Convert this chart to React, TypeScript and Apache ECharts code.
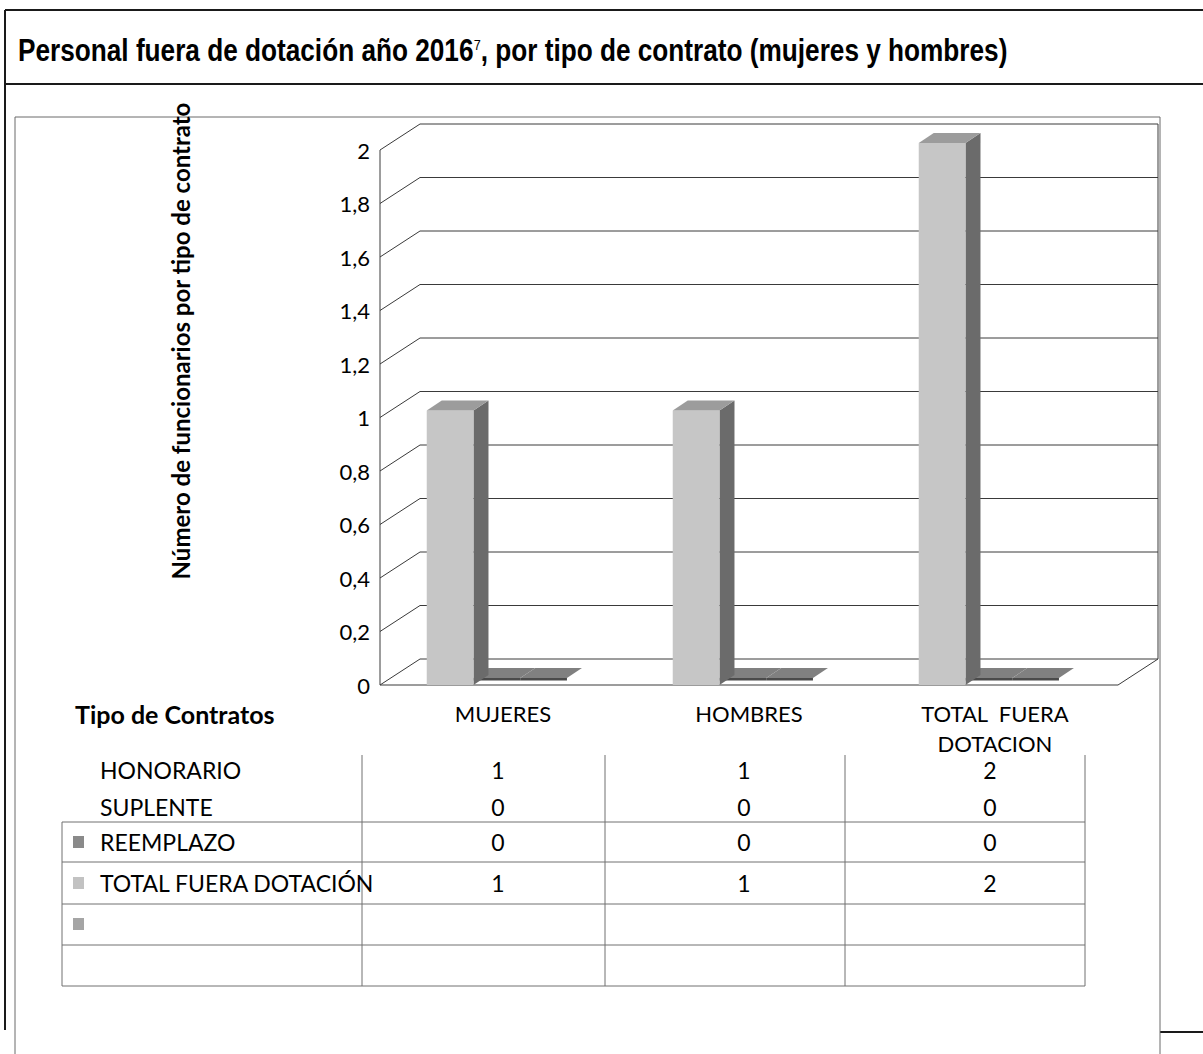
import React, { useEffect, useRef } from 'react';
import * as echarts from 'echarts';

// ---- data ----
const categories = ['MUJERES', 'HOMBRES', 'TOTAL  FUERA DOTACION'];
const honorario = [1, 1, 2];
const suplente = [0, 0, 0];
const reemplazo = [0, 0, 0];
const totalFueraDotacion = [1, 1, 2];
const yTicks = [0, 0.2, 0.4, 0.6, 0.8, 1, 1.2, 1.4, 1.6, 1.8, 2];
const tableRows: { label: string; values: (number | null)[]; key: string | null }[] = [
  { label: 'HONORARIO', values: honorario, key: null },
  { label: 'SUPLENTE', values: suplente, key: null },
  { label: 'REEMPLAZO', values: reemplazo, key: '#8a8a8a' },
  { label: 'TOTAL FUERA DOTACIÓN', values: totalFueraDotacion, key: '#c2c2c2' },
  { label: '', values: [null, null, null], key: '#a5a5a5' },
  { label: '', values: [null, null, null], key: null },
];
const titleMain = 'Personal fuera de dotación año 2016';
const titleSup = '7';
const titleRest = ', por tipo de contrato (mujeres y hombres)';
const yAxisTitle = 'Número de funcionarios por tipo de contrato';
const tableHeader = 'Tipo de Contratos';

// ---- style constants ----
const FONT = "Lato, 'Open Sans', sans-serif";
const DX = 40; // depth offset of back wall
const DY = -26;
const BAR_START = -0.31;
const BAR_W = 0.19;
const SDX = 15;
const SDY = -10;
const LIFT = 7;

function wallRender(params: any, api: any) {
  const cs = params.coordSys;
  const v = api.value(1);
  const y = api.coord([0, v])[1];
  const y0 = api.coord([0, 0])[1];
  const L = cs.x;
  const R = cs.x + cs.width;
  const ls = { stroke: '#3a3a3a', lineWidth: 1, fill: 'none' };
  const children: any[] = [
    { type: 'polyline', shape: { points: [[L, y], [L + DX, y + DY], [R + DX, y + DY]] }, style: ls },
  ];
  if (v === 0) {
    children.push({ type: 'polyline', shape: { points: [[L, y], [R, y], [R + DX, y + DY]] }, style: ls });
  }
  if (v === yTicks[yTicks.length - 1]) {
    children.push({ type: 'line', shape: { x1: L, y1: y, x2: L, y2: y0 }, style: ls });
    children.push({ type: 'line', shape: { x1: R + DX, y1: y + DY, x2: R + DX, y2: y0 + DY }, style: ls });
  }
  return { type: 'group', children };
}

function barRender(k: number) {
  return (params: any, api: any) => {
    const i = api.value(0);
    const v = api.value(1);
    const c = api.coord([i, v]);
    const c0 = api.coord([i, 0]);
    const band = api.size([1, 0])[0];
    const x0 = c[0] + (BAR_START + k * BAR_W) * band;
    const x1 = x0 + BAR_W * band;
    const yTop = c[1] - LIFT;
    const yBot = v > 0 ? c0[1] : yTop + 2;
    const children: any[] = [];
    if (v > 0) {
      children.push({
        type: 'polygon',
        shape: { points: [[x1, yTop], [x1 + SDX, yTop + SDY], [x1 + SDX, yBot + SDY], [x1, yBot]] },
        style: { fill: '#6b6b6b' },
      });
      children.push({
        type: 'rect',
        shape: { x: x0, y: yTop, width: x1 - x0, height: yBot - yTop },
        style: { fill: '#c6c6c6' },
      });
    }
    children.push({
      type: 'polygon',
      shape: { points: [[x0, yTop], [x1, yTop], [x1 + SDX, yTop + SDY], [x0 + SDX, yTop + SDY]] },
      style: { fill: v > 0 ? '#9c9c9c' : '#808080' },
    });
    if (v === 0) {
      children.push({
        type: 'rect',
        shape: { x: x0, y: yTop, width: x1 - x0, height: 2.5 },
        style: { fill: '#4a4a4a' },
      });
    }
    return { type: 'group', children };
  };
}

function buildGraphic(xs: number[]) {
  const g: any[] = [];
  const thick = { stroke: '#1a1a1a', lineWidth: 2 };
  const thin = { stroke: '#6a6a6a', lineWidth: 1, fill: 'none' };
  const tline = { stroke: '#707070', lineWidth: 1 };
  // page / title box lines
  g.push({ type: 'line', shape: { x1: 5, y1: 10, x2: 1203, y2: 10 }, style: thick });
  g.push({ type: 'line', shape: { x1: 5, y1: 84, x2: 1203, y2: 84 }, style: thick });
  g.push({ type: 'line', shape: { x1: 5, y1: 10, x2: 5, y2: 1030 }, style: thick });
  g.push({ type: 'line', shape: { x1: 1160, y1: 1032, x2: 1203, y2: 1032 }, style: thick });
  // chart frame
  g.push({ type: 'polyline', shape: { points: [[15, 1054], [15, 117], [1160, 117], [1160, 1054]] }, style: thin });
  // title (narrow bold face simulated by horizontal scaling)
  g.push({
    type: 'text',
    x: 18,
    y: 50,
    scaleX: 0.845,
    style: {
      text: `{a|${titleMain}}{s|${titleSup}}{a|${titleRest}}`,
      verticalAlign: 'middle',
      rich: {
        a: { fontFamily: "'Liberation Sans', Arial, sans-serif", fontWeight: 'bold', fontSize: 31, fill: '#000' },
        s: { fontFamily: "'Liberation Sans', Arial, sans-serif", fontSize: 15, fill: '#000', padding: [0, 0, 10, 0] },
      },
    },
  });
  // y axis title
  g.push({
    type: 'text',
    x: 180,
    y: 341,
    rotation: Math.PI / 2,
    style: { text: yAxisTitle, font: `bold 24px ${FONT}`, fill: '#000', align: 'center', verticalAlign: 'middle' },
  });
  // table header
  g.push({
    type: 'text',
    x: 75,
    y: 714,
    style: { text: tableHeader, font: `bold 25px ${FONT}`, fill: '#000', align: 'left', verticalAlign: 'middle' },
  });
  // table grid
  const colX = [362, 605, 845, 1085];
  const rowLines = [822, 862, 904, 945, 986];
  rowLines.forEach((y) => g.push({ type: 'line', shape: { x1: 62, y1: y, x2: 1085, y2: y }, style: tline }));
  colX.forEach((x) => g.push({ type: 'line', shape: { x1: x, y1: 755, x2: x, y2: 986 }, style: tline }));
  g.push({ type: 'line', shape: { x1: 62, y1: 822, x2: 62, y2: 986 }, style: tline });
  // table rows
  const rowY = [770, 807, 842, 883, 924, 965];
  tableRows.forEach((row, r) => {
    if (row.key) {
      g.push({ type: 'rect', shape: { x: 73, y: rowY[r] - 6, width: 11, height: 12 }, style: { fill: row.key } });
    }
    if (row.label) {
      g.push({
        type: 'text',
        x: 100,
        y: rowY[r],
        style: { text: row.label, font: `23px ${FONT}`, fill: '#000', align: 'left', verticalAlign: 'middle' },
      });
    }
    row.values.forEach((v, i) => {
      if (v === null) return;
      g.push({
        type: 'text',
        x: xs[i] - 5,
        y: rowY[r],
        style: { text: String(v), font: `23px ${FONT}`, fill: '#000', align: 'center', verticalAlign: 'middle' },
      });
    });
  });
  return g;
}

const option: any = {
  animation: false,
  backgroundColor: '#fff',
  grid: { left: 380, right: 85, top: 150, bottom: 369, containLabel: false },
  xAxis: {
    type: 'category',
    data: categories,
    axisLine: { show: false },
    axisTick: { show: false },
    axisLabel: {
      margin: 13,
      fontFamily: FONT,
      fontSize: 22,
      color: '#000',
      lineHeight: 30,
      interval: 0,
      formatter: (v: string) => v.replace(' DOTACION', '\nDOTACION'),
    },
  },
  yAxis: {
    type: 'value',
    min: 0,
    max: 2,
    interval: 0.2,
    axisLine: { show: false },
    axisTick: { show: false },
    splitLine: { show: false },
    axisLabel: {
      margin: 10,
      fontFamily: FONT,
      fontSize: 22,
      color: '#000',
      formatter: (v: number) => String(Math.round(v * 10) / 10).replace('.', ','),
    },
  },
  series: [
    {
      type: 'custom',
      name: 'walls',
      renderItem: wallRender,
      encode: { x: 0, y: 1 },
      data: yTicks.map((t) => [0, t]),
      z: 1,
      silent: true,
    },
    {
      type: 'custom',
      name: 'REEMPLAZO',
      renderItem: barRender(2),
      encode: { x: 0, y: 1 },
      data: reemplazo.map((v, i) => [i, v]),
      z: 2,
    },
    {
      type: 'custom',
      name: 'SUPLENTE',
      renderItem: barRender(1),
      encode: { x: 0, y: 1 },
      data: suplente.map((v, i) => [i, v]),
      z: 3,
    },
    {
      type: 'custom',
      name: 'HONORARIO',
      renderItem: barRender(0),
      encode: { x: 0, y: 1 },
      data: honorario.map((v, i) => [i, v]),
      z: 4,
    },
  ],
};

export default function App() {
  const ref = useRef<HTMLDivElement>(null);
  useEffect(() => {
    const chart = echarts.init(ref.current!, null, { renderer: 'svg' });
    chart.setOption(option);
    const xs = categories.map((_, i) => chart.convertToPixel({ xAxisIndex: 0 }, i) as number);
    chart.setOption({ graphic: buildGraphic(xs) });
    return () => chart.dispose();
  }, []);
  return (
    <div
      ref={ref}
      style={{ position: 'absolute', left: 0, top: 0, width: 1203, height: 1054, background: '#fff' }}
    />
  );
}
